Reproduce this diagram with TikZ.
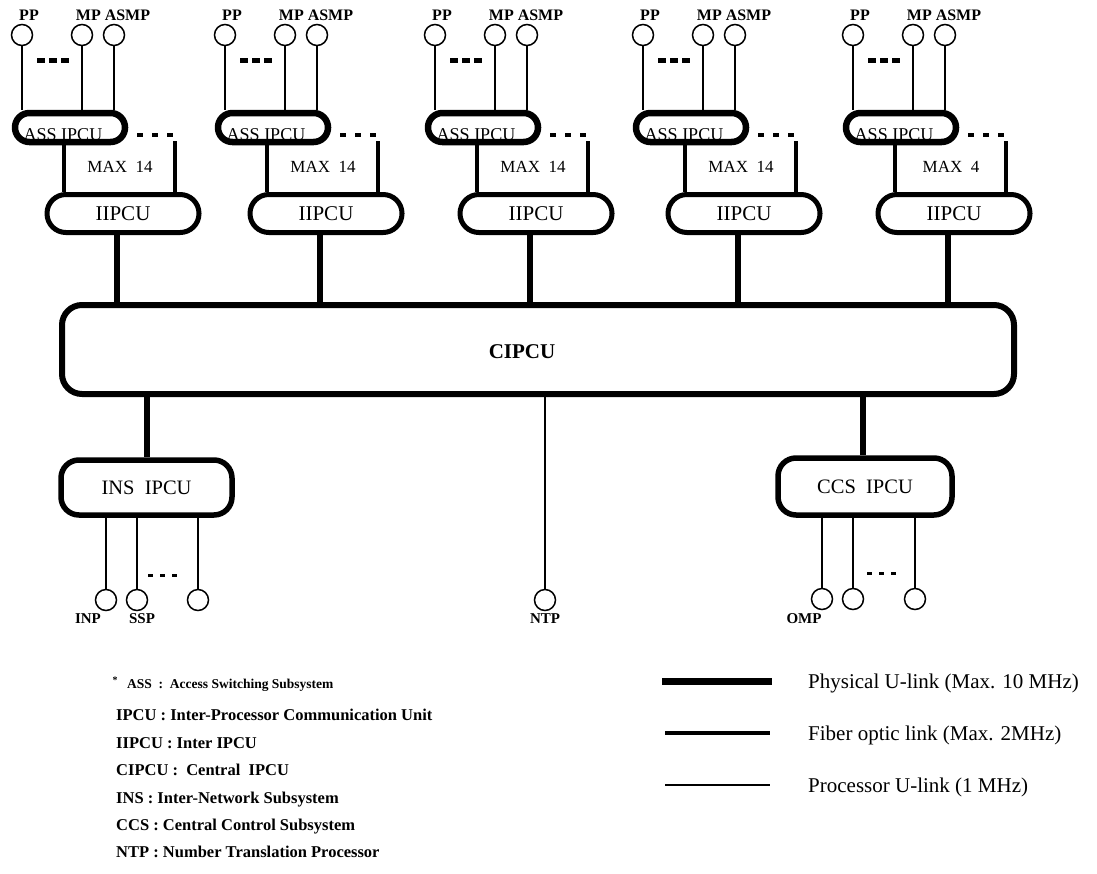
\documentclass[tikz,border=0pt]{standalone}
\usepackage{fontspec}
\setmainfont{Liberation Serif}
\usetikzlibrary{calc}
\newcommand{\fsz}[1]{\fontsize{#1}{#1}\selectfont}
\begin{document}
\begin{tikzpicture}[x=1pt,y=-1pt,
  proc/.style={circle,draw,line width=1.5pt,minimum size=21pt,inner sep=0pt,fill=white},
  plink/.style={line width=1.5pt},
  fiber/.style={line width=4pt},
  phys/.style={line width=6pt},
  assbox/.style={draw,fill=white,line width=6.5pt,minimum width=110pt,minimum height=29pt,rounded corners=14.4pt,inner sep=0pt},
  iibox/.style={draw,fill=white,line width=5pt,minimum width=152pt,minimum height=38pt,rounded corners=18.9pt,inner sep=0pt,font=\fsz{21}},
  subbox/.style={draw,fill=white,line width=5.5pt,rounded corners=18pt,inner sep=0pt,font=\fsz{20.5}},
  cipbox/.style={draw,fill=white,line width=6pt,minimum width=952pt,minimum height=89pt,rounded corners=20pt,inner sep=0pt},
  toplbl/.style={inner sep=0pt,font=\fsz{16}\bfseries},
  botlbl/.style={inner sep=0pt,font=\fsz{15}\bfseries},
  asslbl/.style={inner sep=0pt,font=\fsz{18}},
  maxlbl/.style={inner sep=0pt,font=\fsz{17}},
  dotsA/.style={line width=5pt,dash pattern=on 8pt off 4pt},
  dotsB/.style={line width=4pt,dash pattern=on 6pt off 9pt},
  dotsC/.style={line width=3pt,dash pattern=on 5pt off 7pt},
  legl/.style={inner sep=0pt,anchor=base west,font=\fsz{16.5}\bfseries},
  legr/.style={inner sep=0pt,anchor=base west,font=\fsz{21}}
]
\useasboundingbox (0,0) rectangle (1097,873);

% CIPCU
\node[cipbox] (cipcu) at (538,349.5) {};
\node[inner sep=0pt,font=\fsz{21}\bfseries] (ciptxt) at (522,352) {CIPCU};

% upper groups
\foreach \i/\b/\m in {1/22/14,2/225/14,3/435/14,4/643/14,5/853/4}{
  \node[proc] (pp\i) at (\b,35) {};
  \node[proc] (mp\i) at (\b+60,35) {};
  \node[proc] (asmp\i) at (\b+92,35) {};
  \node[toplbl] (ppl\i) at (\b+7,15) {PP};
  \node[toplbl] (mpl\i) at (\b+91,15) {MP ASMP};
  \node[assbox] (ass\i) at (\b+48,127.5) {};
  \node[iibox] (ii\i) at (\b+101,213.5) {IIPCU};
  \node[maxlbl] (max\i) at (\b+98,167) {MAX\ \ \m};
  \coordinate (c\i) at (\b+153,141);
  \coordinate (da\i) at (\b+15,60);
  \coordinate (db\i) at (\b+50,60);
  \coordinate (ea\i) at (\b+115,135);
  \coordinate (eb\i) at (\b+152,135);
  \draw[plink] (pp\i) -- (pp\i |- ass\i.north);
  \draw[plink] (mp\i) -- (mp\i |- ass\i.north);
  \draw[plink] (asmp\i) -- (asmp\i |- ass\i.north);
  \draw[dotsA] (da\i) -- (db\i);
  \draw[dotsB] (ea\i) -- (eb\i);
  \draw[fiber] ([xshift=-6pt]ass\i.south) -- ([xshift=-6pt]ass\i.south |- ii\i.north);
  \draw[fiber] (c\i) -- (c\i |- ii\i.north);
  \draw[phys] ([xshift=-6pt]ii\i.south) -- ([xshift=-6pt]ii\i.south |- cipcu.north);
  \node[asslbl] (asst\i) at (\b+41,135) {ASS IPCU};
}

% INS
\node[subbox,minimum width=171pt,minimum height=55pt] (ins) at (146.5,487.5) {INS\ \ IPCU};
\draw[phys] (ins.north |- cipcu.south) -- (ins.north);
\node[proc] (inp) at (106,600) {};
\node[proc] (ssp) at (137,600) {};
\node[proc] (insx) at (198,600) {};
\foreach \n in {inp,ssp,insx}{\draw[plink] (\n |- ins.south) -- (\n);}
\coordinate (ida) at (148,575); \coordinate (idb) at (178,575);
\draw[dotsC] (ida) -- (idb);
\node[botlbl] (inpl) at (88,619) {INP};
\node[botlbl] (sspl) at (142,619) {SSP};

% CCS
\node[subbox,minimum width=174pt,minimum height=57pt] (ccs) at (865,486.5) {CCS\ \ IPCU};
\draw[phys] ([xshift=-2pt]ccs.north |- cipcu.south) -- ([xshift=-2pt]ccs.north);
\node[proc] (omp) at (822,599) {};
\node[proc] (ccsb) at (853,599) {};
\node[proc] (ccsx) at (915,599) {};
\foreach \n in {omp,ccsb,ccsx}{\draw[plink] (\n |- ccs.south) -- (\n);}
\coordinate (cda) at (867,573); \coordinate (cdb) at (897,573);
\draw[dotsC] (cda) -- (cdb);
\node[botlbl] (ompl) at (804,619) {OMP};

% NTP
\node[proc] (ntp) at (545,600) {};
\draw[plink] (ntp |- cipcu.south) -- (ntp);
\node[botlbl] (ntpl) at (545,619) {NTP};

% legend left
\node[inner sep=0pt,font=\fsz{10}\bfseries] (star) at (115,680) {*};
\node[legl,font=\fsz{13.5}\bfseries] (lg1) at (127,688) {ASS\ \ :\ \ Access Switching Subsystem};
\node[legl] (lg2) at (116,720) {IPCU : Inter-Processor Communication Unit};
\node[legl] (lg3) at (116,748) {IIPCU : Inter IPCU};
\node[legl] (lg4) at (116,775) {CIPCU :\ \ Central\ \ IPCU};
\node[legl] (lg5) at (116,803) {INS : Inter-Network Subsystem};
\node[legl] (lg6) at (116,830) {CCS : Central Control Subsystem};
\node[legl] (lg7) at (116,857) {NTP : Number Translation Processor};

% legend right
\coordinate (pa) at (662,681); \coordinate (pb) at (772,681);
\coordinate (fa) at (665,733); \coordinate (fb) at (770,733);
\coordinate (qa) at (665,785); \coordinate (qb) at (770,785);
\draw[line width=7pt] (pa) -- (pb);
\draw[line width=4.5pt] (fa) -- (fb);
\draw[plink] (qa) -- (qb);
\node[legr] (lr1) at (808,688) {Physical U-link (Max. 10 MHz)};
\node[legr] (lr2) at (808,740) {Fiber optic link (Max. 2MHz)};
\node[legr] (lr3) at (808,792) {Processor U-link (1 MHz)};
\end{tikzpicture}
\end{document}
